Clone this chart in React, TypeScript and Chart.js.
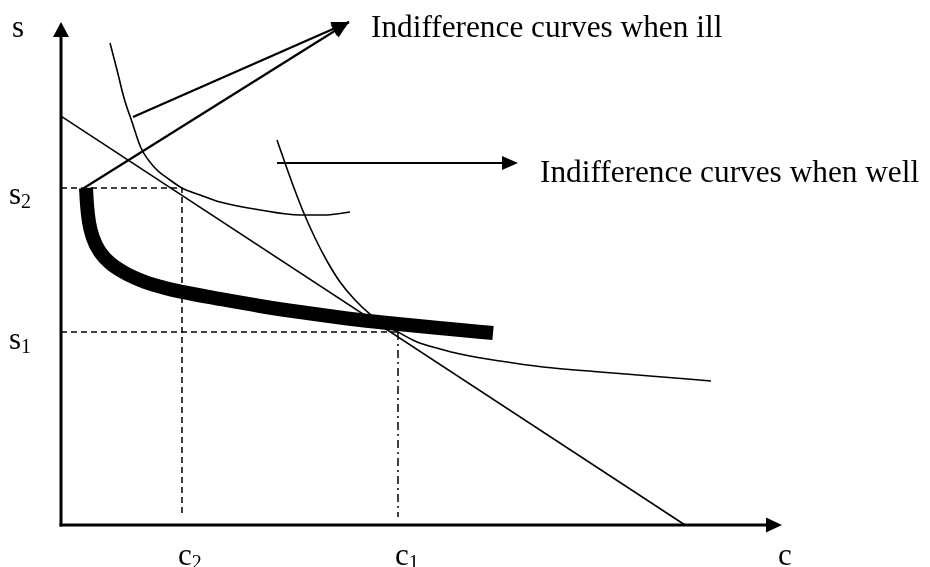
import React, { useEffect, useRef } from "react";
import { Chart, registerables } from "chart.js";

Chart.register(...registerables);

// Axis ranges (diagram units)
const C_MAX = 10;
const S_MAX = 7;

// Thick curve (bold locus)
const thickC = [0.347, 0.361, 0.388, 0.444, 0.541, 0.68, 0.888, 1.165, 1.442, 1.678, 2.205, 2.76, 3.315, 4.147, 4.674, 5.395, 5.992];
const thickS = [4.69, 4.453, 4.217, 3.994, 3.799, 3.646, 3.507, 3.382, 3.298, 3.243, 3.145, 3.048, 2.964, 2.853, 2.797, 2.728, 2.672];

// Indifference curve when ill
const illC = [0.68, 0.777, 0.874, 0.985, 1.11, 1.304, 1.512, 1.678, 1.928, 2.205, 2.76, 3.315, 3.662, 4.008];
const illS = [6.708, 6.332, 5.942, 5.608, 5.246, 4.968, 4.801, 4.69, 4.593, 4.495, 4.384, 4.314, 4.314, 4.356];

// Indifference curve when well
const wellC = [2.996, 3.107, 3.232, 3.356, 3.523, 3.689, 3.87, 4.078, 4.286, 4.494, 4.674, 4.938, 5.257, 5.534, 6.089, 6.685, 7.476, 8.169, 9.015];
const wellS = [5.358, 5.038, 4.69, 4.37, 3.994, 3.674, 3.382, 3.131, 2.936, 2.797, 2.686, 2.547, 2.45, 2.38, 2.282, 2.199, 2.129, 2.074, 2.004];

// Budget line
const budgetC = [0, 8.655];
const budgetS = [5.69, 0];

// Reference levels
const c1 = 4.674;
const c2 = 1.678;
const s1 = 2.686;
const s2 = 4.69;
const guideBottom = 0.111;

// Annotation arrows
const illArrowTip = { c: 3.994, s: 7.0 };
const illArrowStarts = [
  { c: 0.999, s: 5.678 },
  { c: 0.319, s: 4.69 },
];
const wellArrowStart = { c: 2.996, s: 5.038 };
const wellArrowTip = { c: 6.338, s: 5.038 };

const illLabel = "Indifference curves when ill";
const wellLabel = "Indifference curves when well";

const zip = (xs: number[], ys: number[]) => xs.map((x, i) => ({ x, y: ys[i] }));

const FONT = "'Liberation Serif', 'Times New Roman', serif";

function arrowHead(ctx: CanvasRenderingContext2D, fx: number, fy: number, tx: number, ty: number, len: number, half: number) {
  const a = Math.atan2(ty - fy, tx - fx);
  const bx = tx - len * Math.cos(a);
  const by = ty - len * Math.sin(a);
  ctx.beginPath();
  ctx.moveTo(tx, ty);
  ctx.lineTo(bx + half * Math.sin(a), by - half * Math.cos(a));
  ctx.lineTo(bx - half * Math.sin(a), by + half * Math.cos(a));
  ctx.closePath();
  ctx.fill();
}

function subText(ctx: CanvasRenderingContext2D, main: string, sub: string, x: number, base: number) {
  ctx.font = `31px ${FONT}`;
  ctx.fillText(main, x, base);
  const w = ctx.measureText(main).width;
  if (sub) {
    ctx.font = `20px ${FONT}`;
    ctx.fillText(sub, x + w, base + 4);
  }
}

const diagramPlugin = {
  id: "diagram",
  beforeDatasetsDraw(chart: any) {
    const { ctx, scales } = chart;
    const X = scales.x;
    const Y = scales.y;
    const ox = X.getPixelForValue(0);
    const oy = Y.getPixelForValue(0);
    const xe = X.getPixelForValue(C_MAX);
    const ye = Y.getPixelForValue(S_MAX);
    ctx.save();
    ctx.strokeStyle = "#000";
    ctx.fillStyle = "#000";
    ctx.lineWidth = 3;
    ctx.lineCap = "butt";
    ctx.beginPath();
    ctx.moveTo(ox - 1.5, oy);
    ctx.lineTo(xe - 14, oy);
    ctx.stroke();
    ctx.beginPath();
    ctx.moveTo(ox, oy + 1.5);
    ctx.lineTo(ox, ye + 14);
    ctx.stroke();
    arrowHead(ctx, ox, oy, xe, oy, 16, 7.5);
    arrowHead(ctx, ox, oy, ox, ye, 15, 8);
    ctx.restore();
  },
  afterDatasetsDraw(chart: any) {
    const { ctx, scales } = chart;
    const X = scales.x;
    const Y = scales.y;
    const ox = X.getPixelForValue(0);
    const oy = Y.getPixelForValue(0);
    const xe = X.getPixelForValue(C_MAX);
    const ye = Y.getPixelForValue(S_MAX);
    ctx.save();
    ctx.fillStyle = "#000";
    // arrow heads for annotation arrows
    const tx = X.getPixelForValue(illArrowTip.c);
    const ty = Y.getPixelForValue(illArrowTip.s);
    illArrowStarts.forEach((p) => {
      arrowHead(ctx, X.getPixelForValue(p.c), Y.getPixelForValue(p.s), tx, ty, 17, 7.5);
    });
    const wx = X.getPixelForValue(wellArrowTip.c);
    const wy = Y.getPixelForValue(wellArrowTip.s);
    arrowHead(ctx, X.getPixelForValue(wellArrowStart.c), wy, wx, wy, 16, 7);

    ctx.textBaseline = "alphabetic";
    ctx.textAlign = "left";
    ctx.font = `31.3px ${FONT}`;
    ctx.fillText(illLabel, tx + 22, ty + 15);
    ctx.fillText(wellLabel, wx + 22, wy + 19);

    // axis labels
    subText(ctx, "s", "", ox - 49, ye + 15);
    subText(ctx, "s", "2", ox - 52, Y.getPixelForValue(s2) + 16);
    subText(ctx, "s", "1", ox - 52, Y.getPixelForValue(s1) + 17);
    subText(ctx, "c", "2", X.getPixelForValue(c2) - 4, oy + 40);
    subText(ctx, "c", "1", X.getPixelForValue(c1) - 3, oy + 40);
    subText(ctx, "c", "", xe - 4, oy + 40);
    ctx.restore();
  },
};

export default function App() {
  const ref = useRef<HTMLCanvasElement | null>(null);
  useEffect(() => {
    document.body.style.margin = "0";
    const canvas = ref.current;
    if (!canvas) return;
    const thin = { borderColor: "#000", pointRadius: 0, showLine: true, fill: false, clip: false as any };
    const chart = new Chart(canvas, {
      type: "scatter",
      data: {
        datasets: [
          { ...thin, data: [{ x: 0, y: s2 }, { x: c2, y: s2 }, { x: c2, y: guideBottom }], borderWidth: 1.5, borderDash: [6, 4] },
          { ...thin, data: [{ x: 0, y: s1 }, { x: c1, y: s1 }], borderWidth: 1.5, borderDash: [6, 4] },
          { ...thin, data: [{ x: c1, y: s1 }, { x: c1, y: guideBottom }], borderWidth: 1.5, borderDash: [8, 4, 2, 4] },
          { ...thin, data: zip(budgetC, budgetS), borderWidth: 1.5 },
          { ...thin, data: zip(illC, illS), borderWidth: 1.6, cubicInterpolationMode: "monotone" },
          { ...thin, data: zip(wellC, wellS), borderWidth: 1.6, cubicInterpolationMode: "monotone" },
          { ...thin, data: zip(thickC, thickS), borderWidth: 14, borderCapStyle: "butt", cubicInterpolationMode: "monotone" },
          ...illArrowStarts.map((p) => ({ ...thin, data: [{ x: p.c, y: p.s }, { x: illArrowTip.c, y: illArrowTip.s }], borderWidth: 2.2 })),
          { ...thin, data: [{ x: wellArrowStart.c, y: wellArrowStart.s }, { x: wellArrowTip.c - 0.1, y: wellArrowTip.s }], borderWidth: 2.2 },
        ] as any,
      },
      options: {
        animation: false,
        responsive: false,
        maintainAspectRatio: false,
        events: [],
        layout: { padding: { left: 61, right: 148, top: 22, bottom: 42 } },
        scales: {
          x: { type: "linear", min: 0, max: C_MAX, display: false },
          y: { type: "linear", min: 0, max: S_MAX, display: false },
        },
        plugins: { legend: { display: false }, tooltip: { enabled: false } },
      },
      plugins: [diagramPlugin],
    });
    return () => chart.destroy();
  }, []);
  return (
    <div style={{ width: 930, height: 567, background: "#fff" }}>
      <canvas ref={ref} width={930} height={567} />
    </div>
  );
}
